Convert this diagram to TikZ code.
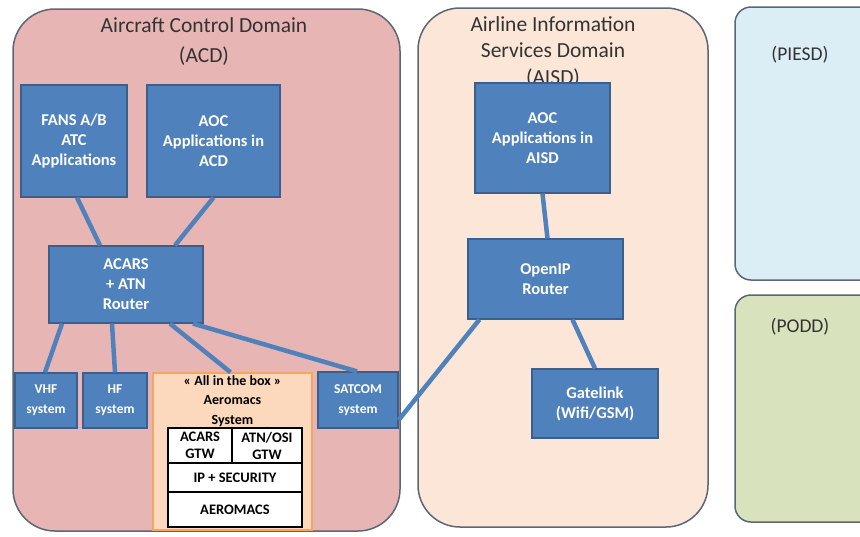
\documentclass[tikz,border=0pt]{standalone}
\usepackage{fontspec}
\setmainfont{Carlito}
\begin{document}
\begin{tikzpicture}[x=1pt,y=-1pt,
  dombox/.style={draw=frame,line width=1.5pt,rounded corners=42pt},
  bluebox/.style={draw=blueborder,fill=bluefill,line width=1.2pt,text=white,align=center,inner sep=0pt},
  bigtxt/.style={font=\bfseries\fontsize{16.5}{20}\selectfont},
  smalltxt/.style={font=\bfseries\fontsize{13.5}{20}\selectfont},
  link/.style={draw=bluefill,line width=4.5pt},
  title/.style={text=titlecol,align=center},
  cell/.style={draw=black,fill=white,line width=1.6pt,inner sep=0pt,align=center,font=\bfseries\fontsize{14.5}{17}\selectfont}]
\definecolor{frame}{HTML}{5C6675}
\definecolor{bluefill}{HTML}{4F81BD}
\definecolor{blueborder}{HTML}{3A5F8C}
\definecolor{titlecol}{HTML}{333333}
\definecolor{acd}{HTML}{E8B5B5}
\definecolor{aisd}{HTML}{FCE6D8}
\definecolor{piesd}{HTML}{DBEDF5}
\definecolor{podd}{HTML}{D8E3BE}
\definecolor{orangeborder}{HTML}{F5A562}
\definecolor{orangefill}{HTML}{FCD9BC}
\useasboundingbox (0,0) rectangle (860,536);
\begin{scope}
\clip (0,0) rectangle (860,536);
% domains
\draw[dombox,fill=acd] (13,9) rectangle (400,531);
\draw[dombox,fill=aisd] (418,8) rectangle (708,527);
\draw[dombox,fill=piesd,rounded corners=16pt] (735,7) rectangle (900,280);
\draw[dombox,fill=podd,rounded corners=16pt] (735,295) rectangle (900,522);
\end{scope}
\node[title,font=\fontsize{21.5}{30}\selectfont] (acdt) at (204,42) {Aircraft Control Domain\\(ACD)};
\node[title,font=\fontsize{21.5}{26.5}\selectfont] (aisdt) at (553,52) {Airline Information\\Services Domain\\(AISD)};
\node[title,font=\fontsize{19.5}{24}\selectfont] (piesdt) at (800,55) {(PIESD)};
\node[title,font=\fontsize{19.5}{24}\selectfont] (poddt) at (800,327) {(PODD)};
% ACD boxes
\node[bluebox,bigtxt,minimum width=106pt,minimum height=112pt] (fans) at (74,141) {FANS A/B\\ATC\\Applications};
\node[bluebox,bigtxt,minimum width=133pt,minimum height=112pt] (aocacd) at (213.5,141) {AOC\\Applications in\\ACD};
\node[bluebox,bigtxt,minimum width=154pt,minimum height=77pt] (router) at (126,284.5) {ACARS\\+ ATN\\Router};
\node[bluebox,smalltxt,minimum width=62pt,minimum height=55pt] (vhf) at (46,400.5) {VHF\\system};
\node[bluebox,smalltxt,minimum width=64pt,minimum height=55pt] (hf) at (115,400.5) {HF\\system};
\node[bluebox,smalltxt,minimum width=80pt,minimum height=56pt] (satcom) at (358,400) {SATCOM\\system};
% Aeromacs
\node[draw=orangeborder,fill=orangefill,line width=1.5pt,minimum width=159pt,minimum height=157pt,inner sep=0pt] (aero) at (232.5,451.5) {};
\node[align=center,font=\bfseries\fontsize{14}{19.5}\selectfont,anchor=north] (aerot) at (232.5,372) {« All in the box »\\Aeromacs\\System};
\node[cell,minimum width=64pt,minimum height=35pt] (acgtw) at (200,445.5) {ACARS\\GTW};
\node[cell,minimum width=70pt,minimum height=35pt] (atngtw) at (267,445.5) {ATN/OSI\\GTW};
\node[cell,minimum width=134pt,minimum height=29pt] (ipsec) at (235,477.5) {IP + SECURITY};
\node[cell,minimum width=134pt,minimum height=35pt] (aeromacs) at (235,509.5) {AEROMACS};
% AISD boxes
\node[bluebox,bigtxt,minimum width=135pt,minimum height=110pt] (aocaisd) at (542.5,138) {AOC\\Applications in\\AISD};
\node[bluebox,bigtxt,minimum width=155pt,minimum height=80pt] (openip) at (545.5,279) {OpenIP\\Router};
\node[bluebox,bigtxt,minimum width=126pt,minimum height=69pt] (gate) at (595,403.5) {Gatelink\\(Wifi/GSM)};
% links
\draw[link] ([xshift=3pt]fans.south) -- ([xshift=-26pt]router.north);
\draw[link] ([xshift=0pt]aocacd.south) -- ([xshift=49pt]router.north);
\draw[link] ([xshift=-64pt]router.south) -- ([xshift=-1pt]vhf.north);
\draw[link] ([xshift=-14pt]router.south) -- (hf.north);
\draw[link] ([xshift=44pt]router.south) -- ([xshift=-2pt]aero.north);
\draw[link] ([xshift=67pt]router.south) -- ([xshift=-1pt]satcom.north);
\draw[link] ([yshift=-20pt]satcom.east) -- ([xshift=12pt]openip.south west);
\draw[link] (aocaisd.south) -- ([xshift=2pt]openip.north);
\draw[link] ([xshift=27pt]openip.south) -- (gate.north);
\end{tikzpicture}
\end{document}
